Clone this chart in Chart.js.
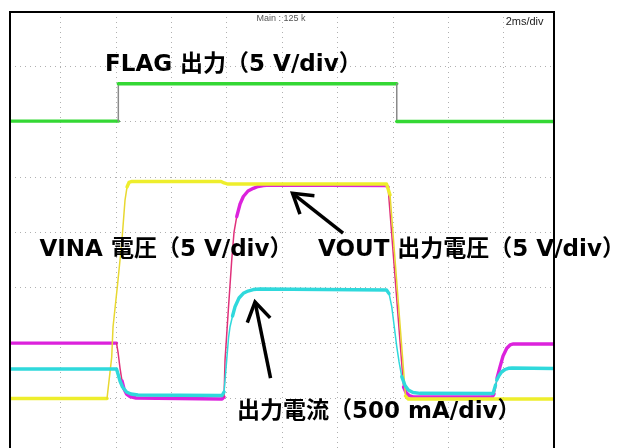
<!DOCTYPE html>
<html><head><meta charset="utf-8">
<script src="https://cdn.jsdelivr.net/npm/chart.js@4/dist/chart.umd.min.js"></script>
<style>html,body{margin:0;padding:0;background:#fff}canvas{display:block}</style>
</head><body>
<canvas id="c" width="620" height="448"></canvas>
<script>
// Horizontal: time in ms (2 ms/div). Vertical: screen divisions (0 = bottom graticule line).
const xGridMs = [2, 4, 6, 8, 10, 12, 14, 16, 18];
const yGridDiv = [1, 2, 3, 4, 5, 6, 7];
const xRange = [0.173, 19.81];
const yRange = [0.105, 7.982];

// FLAG output (green)
const flagT = [0.17, 4.083, 4.083, 14.134, 14.134, 19.82];
const flagV = [6.01, 6.01, 6.685, 6.685, 6.005, 6.005];

// VINA voltage (yellow)
const vinaT = [0.17, 3.675, 3.845, 3.892, 4.054, 4.206, 4.325, 4.397, 4.469, 4.578, 7.791, 7.899, 8.043, 13.765, 13.892, 14.451, 14.542, 19.82];
const vinaV = [1.0, 1.0, 1.749, 2.291, 3.050, 3.808, 4.585, 4.820, 4.902, 4.920, 4.920, 4.893, 4.874, 4.874, 4.676, 1.044, 0.990, 0.990];

// VOUT output voltage (magenta)
const voutT = [0.17, 4.018, 4.072, 4.144, 4.217, 4.289, 4.379, 4.505, 4.722, 7.827, 7.899, 7.935, 8.054, 8.177, 8.260, 8.357, 8.477, 8.596, 8.765, 8.957, 9.126, 9.318, 9.560, 13.747, 13.820, 14.379, 14.469, 14.578, 14.758, 17.574, 17.646, 17.700, 17.755, 17.863, 17.971, 18.105, 18.224, 18.343, 19.82];
const voutV = [2.0, 2.0, 1.839, 1.550, 1.315, 1.171, 1.080, 1.035, 1.008, 0.990, 1.026, 1.695, 2.598, 3.501, 4.007, 4.284, 4.513, 4.649, 4.748, 4.797, 4.829, 4.847, 4.856, 4.847, 4.820, 1.207, 1.107, 1.053, 1.026, 1.026, 1.080, 1.189, 1.369, 1.574, 1.767, 1.906, 1.966, 1.984, 1.984];

// Output current (cyan)
const ioutT = [0.17, 4.018, 4.072, 4.144, 4.235, 4.379, 4.542, 4.794, 7.827, 7.899, 7.996, 8.061, 8.116, 8.206, 8.296, 8.440, 8.596, 8.765, 8.957, 9.199, 13.765, 13.856, 13.953, 14.036, 14.134, 14.217, 14.314, 14.433, 14.552, 14.722, 14.975, 17.610, 17.700, 17.744, 17.827, 17.924, 18.043, 18.162, 18.296, 19.82];
const ioutV = [1.532, 1.532, 1.442, 1.315, 1.207, 1.116, 1.080, 1.062, 1.053, 1.117, 1.695, 2.092, 2.296, 2.490, 2.658, 2.815, 2.900, 2.941, 2.968, 2.977, 2.959, 2.894, 2.658, 2.327, 1.935, 1.659, 1.393, 1.234, 1.153, 1.108, 1.093, 1.090, 1.243, 1.333, 1.415, 1.483, 1.523, 1.545, 1.550, 1.541];

// Annotations (in data units)
const labelTexts = ['FLAG 出力（5 V/div）', 'VINA 電圧（5 V/div）', 'VOUT 出力電圧（5 V/div）', '出力電流（500 mA/div）'];
const labelT = [3.603, 1.238, 11.292, 8.368];
const labelV = [6.916, 3.574, 3.574, 0.647];
const arrowTipT = [10.372, 9.018];
const arrowTipV = [4.706, 2.743];
const arrowTailT = [12.195, 9.578];
const arrowTailV = [3.989, 1.369];
const infoTexts = ['Main : 125 k', '2ms/div'];
const infoT = [9.957, 19.433];
const infoV = [7.819, 7.756];

function pts(ts, vs) { return ts.map((t, i) => ({ x: t, y: vs[i] })); }
function steep(c) { return Math.abs(c.p1.y - c.p0.y) > 4 * Math.abs(c.p1.x - c.p0.x); }
function trace(label, ts, vs, color, edgeColor) {
  return {
    label, data: pts(ts, vs), borderColor: color, borderWidth: 3.4, pointRadius: 0,
    tension: 0, fill: false, borderJoinStyle: 'round', borderCapStyle: 'round',
    segment: {
      borderWidth: c => steep(c) ? 1.5 : undefined,
      borderColor: c => steep(c) ? edgeColor : undefined
    }
  };
}

const overlay = {
  id: 'overlay',
  afterDraw(chart) {
    const { ctx, chartArea: a, scales: { x, y } } = chart;
    ctx.save();
    // frame
    ctx.strokeStyle = '#000'; ctx.lineWidth = 2;
    ctx.beginPath();
    ctx.moveTo(a.left, a.bottom + 2); ctx.lineTo(a.left, a.top);
    ctx.lineTo(a.right, a.top); ctx.lineTo(a.right, a.bottom + 2);
    ctx.stroke();
    // info texts
    ctx.textBaseline = 'alphabetic';
    ctx.fillStyle = '#555'; ctx.font = '9px "Liberation Sans", Arial, sans-serif'; ctx.textAlign = 'center';
    ctx.fillText(infoTexts[0], x.getPixelForValue(infoT[0]), y.getPixelForValue(infoV[0]));
    ctx.fillStyle = '#222'; ctx.font = '11px "Liberation Sans", Arial, sans-serif'; ctx.textAlign = 'right';
    ctx.fillText(infoTexts[1], x.getPixelForValue(infoT[1]), y.getPixelForValue(infoV[1]));
    // labels
    ctx.fillStyle = '#000'; ctx.textAlign = 'left';
    ctx.font = 'bold 23px "DejaVu Sans", "Noto Sans CJK JP", sans-serif';
    labelTexts.forEach((s, i) => ctx.fillText(s, x.getPixelForValue(labelT[i]), y.getPixelForValue(labelV[i])));
    // arrows
    ctx.lineWidth = 3.5; ctx.lineCap = 'butt'; ctx.lineJoin = 'miter';
    arrowTipT.forEach((t, i) => {
      const tx = x.getPixelForValue(t), ty = y.getPixelForValue(arrowTipV[i]);
      const bx = x.getPixelForValue(arrowTailT[i]), by = y.getPixelForValue(arrowTailV[i]);
      const ang = Math.atan2(by - ty, bx - tx), L = 22, w = 0.56;
      ctx.beginPath();
      ctx.moveTo(bx, by); ctx.lineTo(tx, ty); ctx.stroke();
      ctx.beginPath();
      ctx.moveTo(tx + L * Math.cos(ang - w), ty + L * Math.sin(ang - w));
      ctx.lineTo(tx, ty);
      ctx.lineTo(tx + L * Math.cos(ang + w), ty + L * Math.sin(ang + w));
      ctx.stroke();
    });
    ctx.restore();
  }
};

const gridStyle = { color: '#b0b0b0', lineWidth: 1, drawTicks: false };
new Chart(document.getElementById('c'), {
  type: 'line',
  data: {
    datasets: [
      trace('出力電流', ioutT, ioutV, '#2fd9dc', '#2fd9dc'),
      trace('VINA 電圧', vinaT, vinaV, '#eeee2c', '#e8d830'),
      trace('VOUT 出力電圧', voutT, voutV, '#dc22dc', '#e0307a'),
      trace('FLAG 出力', flagT, flagV, '#34d834', '#8a8a8a')
    ]
  },
  options: {
    responsive: false, animation: false, devicePixelRatio: 1,
    layout: { padding: { left: 10, top: 12, right: 66, bottom: 0 } },
    plugins: { legend: { display: false }, tooltip: { enabled: false } },
    scales: {
      x: {
        type: 'linear', min: xRange[0], max: xRange[1],
        ticks: { display: false }, grid: gridStyle, border: { display: false, dash: [1, 4] },
        afterBuildTicks: s => { s.ticks = xGridMs.map(v => ({ value: v })); },
        afterFit: s => { s.height = 0; }
      },
      y: {
        type: 'linear', min: yRange[0], max: yRange[1],
        ticks: { display: false }, grid: gridStyle, border: { display: false, dash: [1, 4] },
        afterBuildTicks: s => { s.ticks = yGridDiv.map(v => ({ value: v })); },
        afterFit: s => { s.width = 0; }
      }
    }
  },
  plugins: [overlay]
});
</script>
</body></html>
